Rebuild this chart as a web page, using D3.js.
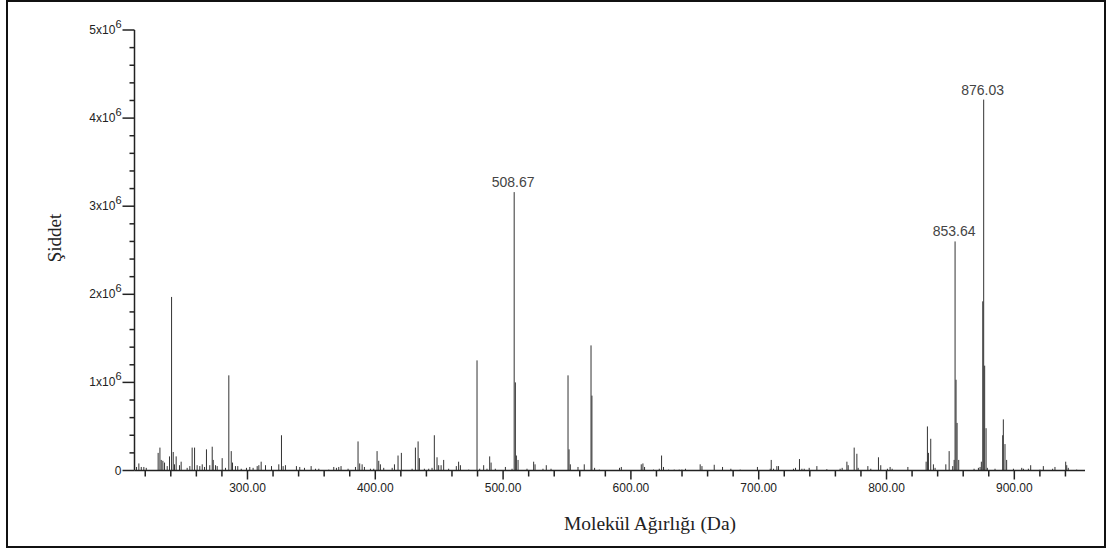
<!DOCTYPE html>
<html>
<head>
<meta charset="utf-8">
<script src="https://cdn.jsdelivr.net/npm/d3@7/dist/d3.min.js"></script>
<style>
  html, body { margin: 0; padding: 0; background: #fff; }
  svg { display: block; }
</style>
</head>
<body>
<svg id="chart" width="1113" height="554"></svg>
<script>
// Mass spectrum: m/z (Da) and intensity in units of 10^6 counts
const mz = [
  213.2, 215.0, 216.9, 218.9, 220.8, 230.1, 231.5, 232.5, 233.8, 235.1, 237.2, 239.0,
  240.6, 241.9, 242.9, 244.2, 246.8, 248.1, 252.8, 254.9, 256.7, 258.6, 260.6, 262.7,
  264.6, 266.4, 267.9, 270.5, 272.4, 273.2, 275.0, 276.3, 280.2, 282.8, 285.4, 287.3,
  288.3, 290.6, 292.4, 295.1, 299.2, 301.8, 304.4, 307.6, 308.9, 310.7, 314.1, 318.8,
  324.5, 326.6, 327.9, 329.7, 338.3, 340.9, 344.6, 349.8, 353.2, 355.8, 363.6, 367.5,
  369.6, 371.4, 373.2, 378.7, 384.5, 386.5, 387.8, 389.7, 391.5, 396.2, 398.8, 401.4,
  402.7, 404.0, 406.6, 413.2, 415.0, 417.8, 420.4, 428.8, 431.4, 433.5, 434.5, 438.4,
  441.8, 444.4, 446.2, 448.3, 449.6, 451.5, 453.5, 457.4, 463.4, 465.2, 466.6, 473.1,
  479.6, 481.7, 484.8, 487.4, 489.5, 490.6, 493.9, 501.8, 507.0, 508.67, 509.6, 510.4,
  511.7, 518.7, 523.9, 525.0, 531.2, 533.8, 537.5, 550.8, 551.6, 552.6, 558.6, 563.5,
  568.8, 569.5, 571.6, 575.3, 591.1, 592.5, 608.1, 609.4, 610.7, 617.7, 622.2, 624.0,
  625.5, 629.5, 633.9, 637.8, 639.9, 642.7, 654.2, 655.6, 665.2, 671.7, 678.2, 685.5,
  699.0, 709.0, 709.8, 711.6, 714.2, 715.5, 727.2, 728.8, 731.9, 733.8, 735.6, 739.5,
  745.5, 753.3, 763.7, 765.3, 769.0, 770.0, 774.7, 776.8, 777.8, 785.4, 787.7, 793.7,
  795.5, 800.7, 802.8, 804.4, 816.7, 831.0, 832.0, 832.8, 834.6, 836.7, 838.0, 846.4,
  849.0, 851.8, 852.9, 853.64, 854.4, 855.2, 856.5, 868.5, 871.9, 873.2, 874.2, 875.3,
  876.03, 876.8, 877.9, 878.9, 884.9, 890.9, 891.4, 892.7, 894.0, 899.3, 905.8, 907.1,
  911.0, 912.8, 920.1, 922.7, 930.0, 931.8, 940.2, 941.0, 942.2, 948.8
];
const intensity = [
  0.04, 0.08, 0.04, 0.04, 0.03, 0.20, 0.26, 0.12, 0.11, 0.09, 0.05, 0.16,
  1.97, 0.21, 0.07, 0.16, 0.06, 0.10, 0.03, 0.05, 0.26, 0.26, 0.06, 0.05,
  0.07, 0.04, 0.24, 0.06, 0.27, 0.12, 0.06, 0.05, 0.14, 0.03, 1.08, 0.22,
  0.09, 0.05, 0.05, 0.02, 0.03, 0.04, 0.03, 0.05, 0.06, 0.10, 0.06, 0.05,
  0.07, 0.40, 0.05, 0.06, 0.05, 0.04, 0.03, 0.05, 0.02, 0.02, 0.01, 0.04,
  0.03, 0.04, 0.05, 0.02, 0.04, 0.33, 0.08, 0.07, 0.04, 0.02, 0.02, 0.22,
  0.11, 0.07, 0.03, 0.03, 0.07, 0.17, 0.20, 0.02, 0.26, 0.33, 0.14, 0.02,
  0.02, 0.03, 0.40, 0.15, 0.06, 0.06, 0.12, 0.02, 0.05, 0.10, 0.06, 0.01,
  1.25, 0.02, 0.06, 0.02, 0.16, 0.09, 0.02, 0.04, 0.02, 3.16, 1.00, 0.17,
  0.12, 0.02, 0.10, 0.07, 0.02, 0.06, 0.02, 1.08, 0.24, 0.07, 0.04, 0.07,
  1.42, 0.85, 0.03, 0.01, 0.03, 0.04, 0.07, 0.08, 0.04, 0.01, 0.02, 0.17,
  0.04, 0.01, 0.01, 0.01, 0.01, 0.02, 0.07, 0.05, 0.065, 0.04, 0.02, 0.01,
  0.04, 0.02, 0.12, 0.02, 0.05, 0.05, 0.02, 0.03, 0.13, 0.02, 0.02, 0.03,
  0.05, 0.015, 0.02, 0.03, 0.10, 0.06, 0.26, 0.19, 0.03, 0.05, 0.02, 0.15,
  0.06, 0.02, 0.04, 0.02, 0.04, 0.10, 0.50, 0.20, 0.36, 0.07, 0.03, 0.07,
  0.22, 0.05, 0.12, 2.60, 1.03, 0.54, 0.12, 0.02, 0.03, 0.04, 0.10, 1.92,
  4.21, 1.19, 0.48, 0.03, 0.02, 0.40, 0.58, 0.30, 0.12, 0.02, 0.03, 0.02,
  0.02, 0.06, 0.01, 0.05, 0.02, 0.04, 0.10, 0.06, 0.03, 0.01
];

// Peaks annotated with their m/z
const labelledPeaks = [508.67, 853.64, 876.03];

// Axis ticks
const xMajorTicks = [300, 400, 500, 600, 700, 800, 900];
const yMajorTicks = [0, 1, 2, 3, 4, 5];

const xTitle = "Molekül Ağırlığı (Da)";
const yTitle = "Şiddet";

const svg = d3.select("#chart");

// Outer frame
svg.append("rect")
  .attr("x", 7).attr("y", 1)
  .attr("width", 1098).attr("height", 546)
  .attr("fill", "none").attr("stroke", "#111").attr("stroke-width", 2);

const x = d3.scaleLinear().domain([211.6, 955.3]).range([134.5, 1085]);
const y = d3.scaleLinear().domain([0, 5]).range([470.5, 30]);

const axisColor = "#222";
const sans = "'Liberation Sans', Arial, sans-serif";
const serif = "'Liberation Serif', 'Times New Roman', serif";

// Spectrum sticks
const peaks = mz.map((m, i) => ({ m, v: intensity[i] }));
svg.append("g")
  .selectAll("line")
  .data(peaks)
  .join("line")
  .attr("x1", d => x(d.m)).attr("x2", d => x(d.m))
  .attr("y1", y(0)).attr("y2", d => y(d.v))
  .attr("stroke", "#333")
  .attr("stroke-width", 1);

// X axis: majors every 100, minors every 20
const xMinorTicks = d3.range(220, 955, 20).filter(t => t % 100 !== 0);
const xAxis = svg.append("g").attr("transform", `translate(0,${y(0)})`);
xAxis.append("line")
  .attr("x1", x.range()[0]).attr("x2", x.range()[1])
  .attr("stroke", axisColor).attr("stroke-width", 1.5);
xAxis.selectAll("line.minor").data(xMinorTicks).join("line")
  .attr("class", "minor")
  .attr("x1", d => x(d)).attr("x2", d => x(d))
  .attr("y1", 0).attr("y2", 6)
  .attr("stroke", axisColor).attr("stroke-width", 1.5);
xAxis.selectAll("line.major").data(xMajorTicks).join("line")
  .attr("class", "major")
  .attr("x1", d => x(d)).attr("x2", d => x(d))
  .attr("y1", 0).attr("y2", 9)
  .attr("stroke", axisColor).attr("stroke-width", 1.5);
xAxis.selectAll("text").data(xMajorTicks).join("text")
  .attr("x", d => x(d)).attr("y", 21)
  .attr("text-anchor", "middle")
  .attr("font-family", sans).attr("font-size", 12)
  .attr("fill", "#222")
  .text(d => d3.format(".2f")(d));

// Y axis: majors every 1x10^6, minors every 0.2x10^6
const yMinorTicks = d3.range(0.2, 5, 0.2).filter(t => Math.abs(t - Math.round(t)) > 1e-6);
const yAxis = svg.append("g").attr("transform", `translate(${x.range()[0]},0)`);
yAxis.append("line")
  .attr("y1", y.range()[0]).attr("y2", y.range()[1])
  .attr("stroke", axisColor).attr("stroke-width", 1.5);
yAxis.selectAll("line.minor").data(yMinorTicks).join("line")
  .attr("class", "minor")
  .attr("y1", d => y(d)).attr("y2", d => y(d))
  .attr("x1", -5).attr("x2", 0)
  .attr("stroke", axisColor).attr("stroke-width", 1.5);
yAxis.selectAll("line.major").data(yMajorTicks).join("line")
  .attr("class", "major")
  .attr("y1", d => y(d)).attr("y2", d => y(d))
  .attr("x1", -12).attr("x2", 0)
  .attr("stroke", axisColor).attr("stroke-width", 1.5);
const yLabels = yAxis.selectAll("text").data(yMajorTicks).join("text")
  .attr("x", -13).attr("y", d => y(d) + 4)
  .attr("text-anchor", "end")
  .attr("font-family", sans).attr("font-size", 12)
  .attr("fill", "#222");
yLabels.each(function(d) {
  const t = d3.select(this);
  if (d === 0) { t.text("0"); return; }
  t.append("tspan").text(d + "x10");
  t.append("tspan").attr("dy", -6).attr("font-size", 11).text("6");
});

// Peak annotations
svg.append("g").selectAll("text")
  .data(labelledPeaks)
  .join("text")
  .attr("x", d => x(d) - 1)
  .attr("y", d => y(intensity[mz.indexOf(d)]) - 5)
  .attr("text-anchor", "middle")
  .attr("font-family", sans).attr("font-size", 14)
  .attr("fill", "#444")
  .text(d => d3.format(".2f")(d));

// Axis titles
svg.append("text")
  .attr("x", 650).attr("y", 530)
  .attr("text-anchor", "middle")
  .attr("font-family", serif).attr("font-size", 19.5)
  .attr("fill", "#222")
  .text(xTitle);

svg.append("text")
  .attr("transform", "translate(61,238) rotate(-90)")
  .attr("text-anchor", "middle")
  .attr("font-family", serif).attr("font-size", 19)
  .attr("fill", "#222")
  .text(yTitle);
</script>
</body>
</html>
